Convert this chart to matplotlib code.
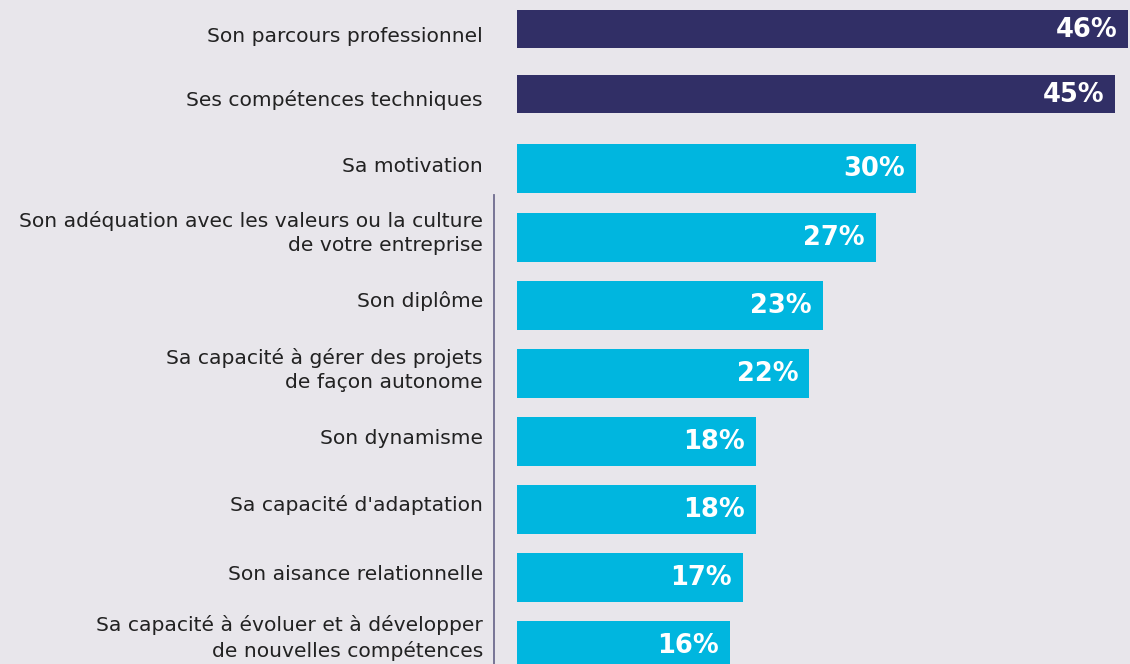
import matplotlib.pyplot as plt
import matplotlib.transforms as mtransforms

# donnees
labels = [
    "Son parcours professionnel",
    "Ses compétences techniques",
    "Sa motivation",
    "Son adéquation avec les valeurs ou la culture\nde votre entreprise",
    "Son diplôme",
    "Sa capacité à gérer des projets\nde façon autonome",
    "Son dynamisme",
    "Sa capacité d'adaptation",
    "Son aisance relationnelle",
    "Sa capacité à évoluer et à développer\nde nouvelles compétences",
]
values = [46, 45, 30, 27, 23, 22, 18, 18, 17, 16]

# mise en page (pixels)
ypos = [29, 94, 168.5, 237, 305, 373, 441, 509, 577, 645]
lab_y = [36, 100, 167, 233, 301, 370, 438, 505, 575, 638]
heights = [38, 38, 49, 49, 49, 49, 49, 49, 49, 49]
colors = ["#312f66"] * 2 + ["#00b6df"] * 8
bg = "#e8e6eb"

W, H = 1130, 664
fig = plt.figure(figsize=(W / 100, H / 100), dpi=100)
fig.patch.set_facecolor(bg)
x0 = 517
ax = fig.add_axes([x0 / W, 0, (W - x0) / W, 1])
ax.set_facecolor(bg)
px = 13.29  # pixels par %
ax.set_xlim(0, (W - x0) / px)
ax.set_ylim(H, 0)
ax.axis("off")

ax.barh(ypos, values, height=heights, color=colors)

lab_tr = ax.transData + mtransforms.ScaledTranslation(-34 / 100, 0, fig.dpi_scale_trans)
val_tr = ax.transData + mtransforms.ScaledTranslation(-11 / 100, -1 / 100, fig.dpi_scale_trans)
for y, ly, v, lab in zip(ypos, lab_y, values, labels):
    ax.text(0, ly, lab, transform=lab_tr, ha="right", va="center",
            fontsize=14.6, color="#222222", linespacing=1.38)
    ax.text(v, y, f"{v}%", transform=val_tr, ha="right", va="center",
            fontsize=18.5, fontweight="bold", color="white")

# trait vertical
line_tr = mtransforms.blended_transform_factory(
    ax.transData + mtransforms.ScaledTranslation(-23 / 100, 0, fig.dpi_scale_trans),
    ax.transData)
ax.plot([0, 0], [195, H], transform=line_tr, color="#6f6c8e", lw=1.3, clip_on=False)

fig.savefig("out.png", dpi=100, facecolor=bg)
